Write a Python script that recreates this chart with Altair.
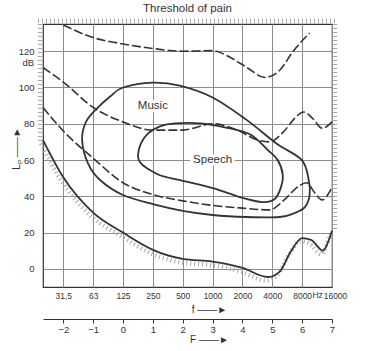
import altair as alt
import pandas as pd

# x position: F = log2(f / 125 Hz); y: sound pressure level L_p in dB
freq_ticks = [-2, -1, 0, 1, 2, 3, 4, 5, 6, 7]
freq_labels = ["31,5", "63", "125", "250", "500", "1000", "2000", "4000", "8000", "16000"]
level_ticks = [0, 20, 40, 60, 80, 100, 120]

# threshold in quiet (solid, hatched)
thr_F = [-2.68, -2.0, -1.0, 0.0, 1.0, 2.0, 3.0, 4.0, 4.85, 5.25, 5.6, 6.0, 6.3, 6.7, 6.85, 7.0]
thr_dB = [71, 50.5, 31, 20, 10.5, 5.5, 4, 0.5, -4.5, -1.5, 9, 17, 16, 10, 14, 21]

# dashed contours
pain_F = [-2.0, -1.0, 0.0, 1.0, 2.0, 3.0, 3.6, 4.15, 4.75, 5.25, 5.7, 6.25]
pain_dB = [134.5, 127.5, 124, 121.5, 120, 120.3, 116.5, 111, 105.5, 109.5, 120, 130]

mid_F = [-2.68, -2.0, -1.0, 0.0, 1.0, 2.0, 3.0, 3.9, 4.5, 4.9, 5.4, 5.75, 6.05, 6.35, 6.67, 7.0]
mid_dB = [111, 103, 89, 81, 76.5, 76.5, 80, 76, 71, 70, 76, 83, 86.5, 83, 77.5, 81]

low_F = [-2.68, -2.0, -1.0, 0.0, 1.0, 2.0, 3.0, 4.0, 4.9, 5.4, 5.8, 6.15, 6.42, 6.67, 7.0]
low_dB = [89, 76, 61, 47.5, 41, 37.5, 35, 33.5, 32.5, 38, 44.5, 47.5, 42, 38, 45]

# closed areas
music_F = [-1.37, -1.24, -0.87, -0.43, 0.0, 1.0, 1.9, 3.0, 4.15, 5.15, 5.99, 6.22, 6.25,
           6.09, 5.75, 5.25, 4.15, 3.0, 2.0, 1.0, 0.0, -0.77, -1.17]
music_dB = [71, 81, 88.5, 95, 100, 102.7, 101, 94.5, 82, 69, 60, 49, 40.7,
            34, 30.8, 28.6, 28.6, 29.7, 32, 35.7, 40.7, 49, 58]

speech_F = [0.5, 0.6, 0.84, 1.24, 1.74, 2.58, 3.41, 4.25, 4.85, 5.18, 5.35, 5.28, 5.08,
            4.68, 3.91, 3.01, 1.91, 1.24, 0.8, 0.57]
speech_dB = [62.6, 69.2, 74.7, 78.6, 80.2, 80.2, 78, 74.2, 65.5, 60, 52, 44.5, 38.5,
             36.8, 39.6, 44.5, 48.9, 51.6, 55.5, 58.8]

area_names = ["Music", "Speech"]
area_F = [1.0, 3.0]
area_dB = [90, 60]


def frame(F, dB):
    return pd.DataFrame({"F": F, "dB": dB, "i": list(range(len(F)))})


W, H = 289, 263
FONT = "Liberation Sans Narrow, Liberation Sans, sans-serif"
INK = "#333333"
GRID = "#8c8c8c"

xs = alt.Scale(domain=[-2.68, 7], nice=False, zero=False)
ys = alt.Scale(domain=[-10, 135], nice=False, zero=False)

lab_arr = "[" + ",".join("'" + s + "'" for s in freq_labels) + "]"

yax = alt.Axis(values=level_ticks, grid=True, gridColor=GRID, gridWidth=1, ticks=False,
               domain=False, labelPadding=9, labelFont=FONT, labelFontSize=9.5,
               labelColor=INK, title="Lₚ ——►", titleX=-27, titleY=124,
               titleAngle=270, titleAlign="center", titleBaseline="middle",
               titleFont=FONT, titleFontSize=10, titleFontWeight="normal", titleColor=INK)

xax_f = alt.Axis(values=freq_ticks, labelExpr=lab_arr + "[datum.value + 2]", grid=True,
                 gridColor=GRID, gridWidth=1, ticks=False, domain=False, labelPadding=4,
                 labelFont=FONT, labelFontSize=8.5, labelColor=INK, labelFlush=False,
                 labelOffset={"condition": {"test": "datum.value == 7", "value": 3},
                              "value": 0},
                 title="f ——►", titleX=166, titleY=22, titleAlign="center",
                 titleBaseline="middle", titleFont=FONT, titleFontSize=10,
                 titleFontWeight="normal", titleColor=INK)

xax_F = alt.Axis(values=freq_ticks, orient="bottom", offset=32, grid=False, domain=True,
                 domainColor=INK, ticks=True, tickSize=4, tickColor=INK, labelPadding=1,
                 labelExpr="datum.value < 0 ? '−' + abs(datum.value) : datum.label",
                 labelFont=FONT, labelFontSize=9.5, labelColor=INK, labelFlush=False,
                 title="F ——►", titleX=166, titleY=20, titleAlign="center",
                 titleBaseline="middle", titleFont=FONT, titleFontSize=10,
                 titleFontWeight="normal", titleColor=INK)


def X(axis=None):
    return alt.X("F:Q", scale=xs, axis=axis)


def Y():
    return alt.Y("dB:Q", scale=ys, axis=yax)


HATCH = dict(color="#a8a8a8", strokeWidth=4.5, strokeDash=[1, 3])

thr_hatch = alt.Chart(frame(thr_F, thr_dB)).mark_line(
    interpolate="monotone", xOffset=-2, yOffset=3.5, **HATCH
).encode(x=X(), y=Y(), order="i:Q")

left_hatch = alt.Chart().mark_rule(**HATCH).encode(
    x=alt.value(-3), y=alt.YDatum(135, scale=ys, axis=yax), y2=alt.Y2Datum(70))
right_hatch = alt.Chart().mark_rule(**HATCH).encode(
    x=alt.value(W + 3), y=alt.YDatum(135, scale=ys, axis=yax), y2=alt.Y2Datum(21))
top_hatch = alt.Chart().mark_rule(**HATCH).encode(
    x=alt.value(-5), x2=alt.value(W + 5), y=alt.value(-3))

thr_line = alt.Chart(frame(thr_F, thr_dB)).mark_line(
    interpolate="monotone", color=INK, strokeWidth=1.8
).encode(x=X(xax_f), y=Y(), order="i:Q")

DASH = dict(color=INK, strokeWidth=1.6, strokeDash=[9, 3], interpolate="monotone")
pain_line = alt.Chart(frame(pain_F, pain_dB)).mark_line(**DASH).encode(
    x=X(), y=Y(), order="i:Q")
mid_line = alt.Chart(frame(mid_F, mid_dB)).mark_line(**DASH).encode(
    x=X(), y=Y(), order="i:Q")
low_line = alt.Chart(frame(low_F, low_dB)).mark_line(**DASH).encode(
    x=X(), y=Y(), order="i:Q")

music = alt.Chart(frame(music_F, music_dB)).mark_line(
    interpolate="cardinal-closed", color=INK, strokeWidth=1.8
).encode(x=X(), y=Y(), order="i:Q")
speech = alt.Chart(frame(speech_F, speech_dB)).mark_line(
    interpolate="cardinal-closed", color=INK, strokeWidth=1.8
).encode(x=X(), y=Y(), order="i:Q")

lab_df = pd.DataFrame({"name": area_names, "F": area_F, "dB": area_dB})
halo = alt.Chart(lab_df).mark_text(
    font=FONT, fontSize=11.5, color="white", stroke="white", strokeWidth=6
).encode(x=X(), y=Y(), text="name:N")
labels = alt.Chart(lab_df).mark_text(
    font=FONT, fontSize=11.5, color=INK
).encode(x=X(xax_F), y=Y(), text="name:N")

hz = alt.Chart().mark_text(font=FONT, fontSize=8.5, color=INK, baseline="top").encode(
    x=alt.XDatum(6.52, scale=xs, axis=None), y=alt.value(H + 4), text=alt.value("Hz"))
db = alt.Chart().mark_text(font=FONT, fontSize=9.5, color=INK, align="right",
                           baseline="middle").encode(
    x=alt.value(-9), y=alt.YDatum(113.7, scale=ys, axis=yax), text=alt.value("dB"))

chart = alt.layer(
    thr_hatch, left_hatch, right_hatch, top_hatch, thr_line, pain_line, mid_line,
    low_line, music, speech, halo, labels, hz, db
).resolve_axis(x="independent").properties(
    width=W, height=H,
    autosize=alt.AutoSizeParams(type="none"),
    padding={"left": 43, "top": 24, "right": 39, "bottom": 64},
    background="white",
    title=alt.TitleParams("Threshold of pain", font="Liberation Sans, sans-serif",
                          fontSize=11.5, fontWeight="normal", color=INK, offset=4,
                          frame="group", anchor="middle"),
).configure_view(stroke=INK, strokeWidth=1.2)

chart.save("out.html", embed_options={"renderer": "svg", "actions": False})
